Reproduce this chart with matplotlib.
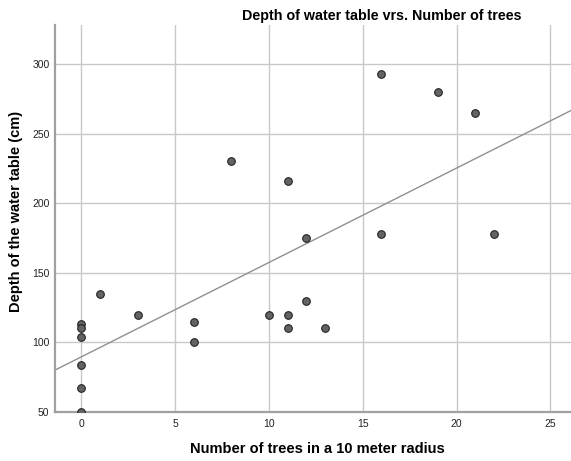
import numpy as np
import matplotlib
matplotlib.use('Agg')
from matplotlib import pyplot as plt

plt.rcParams['font.family'] = ['Liberation Sans', 'DejaVu Sans']

# number of trees in a 10 m radius and depth of the water table (cm)
trees = [0, 0, 0, 0, 0, 0, 1, 3, 6, 6, 8, 10, 11, 11, 11, 12, 12, 13, 16, 16, 19, 21, 22]
depth = [113, 110, 104, 84, 67, 50, 135, 120, 115, 100, 230, 120, 216, 120, 110, 175, 130, 110, 293, 178, 280, 265, 178]

x_ticks = [0, 5, 10, 15, 20, 25]
y_ticks = [50, 100, 150, 200, 250, 300]

x = np.array(trees)
y = np.array(depth)
slope, intercept = np.polyfit(x, y, 1)

fig = plt.figure(figsize=(5.71, 4.61), dpi=100)
ax = fig.add_axes([0.0963, 0.1063, 0.9037, 0.8395])

xlim = (-1.4, 26.1)
ax.set_xlim(xlim)
ax.set_ylim(50, 328)

ax.grid(True, color='#c8c8c8', linewidth=1.0)
ax.set_axisbelow(True)

# fit line across the whole x range
xs = np.array(xlim)
ax.plot(xs, intercept + slope * xs, color='#909090', linewidth=1.0, zorder=2)
ax.scatter(x, y, s=30, color='#636363', edgecolors='#222222', linewidths=0.8, zorder=3)

ax.set_xticks(x_ticks)
ax.set_yticks(y_ticks)
ax.tick_params(axis='x', length=0, labelsize=7.5, labelcolor='#222222', pad=5)
ax.tick_params(axis='y', length=0, labelsize=7.5, labelcolor='#222222', pad=4)

for side in ['top', 'right']:
    ax.spines[side].set_visible(False)
for side in ['left', 'bottom']:
    ax.spines[side].set_color('#a0a0a0')
    ax.spines[side].set_linewidth(1.6)

ax.set_xlabel('Number of trees in a 10 meter radius', fontsize=10.5, fontweight='bold', va='center')
ax.xaxis.set_label_coords(0.508, -0.0957)
ax.set_ylabel('Depth of the water table (cm)', fontsize=10.5, fontweight='bold', va='center')
ax.yaxis.set_label_coords(-0.0755, 0.517)
fig.text(0.669, 0.965, 'Depth of water table vrs. Number of trees', fontsize=10.3, fontweight='bold',
         ha='center', va='center')

fig.savefig('out.png', dpi=100)
